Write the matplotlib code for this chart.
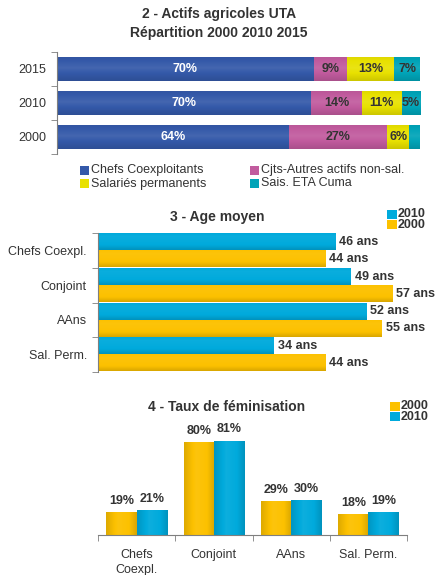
import matplotlib
matplotlib.use("Agg")
import matplotlib.pyplot as plt
import numpy as np
from matplotlib.patches import Rectangle
from matplotlib.colors import to_rgb

plt.rcParams['font.family'] = ['Liberation Sans', 'DejaVu Sans']

# ---- data -------------------------------------------------------------
years = ["2000", "2010", "2015"]
uta_series = ["Chefs Coexploitants", "Cjts-Autres actifs non-sal.",
              "Salariés permanents", "Sais. ETA Cuma"]
uta_2000 = [64, 27, 6, 3]
uta_2010 = [70, 14, 11, 5]
uta_2015 = [70, 9, 13, 7]

age_groups = ["Chefs Coexpl.", "Conjoint", "AAns", "Sal. Perm."]
age_2010 = [46, 49, 52, 34]
age_2000 = [44, 57, 55, 44]

fem_groups = ["Chefs\nCoexpl.", "Conjoint", "AAns", "Sal. Perm."]
fem_2000 = [19, 80, 29, 18]
fem_2010 = [21, 81, 30, 19]

# ---- styling ----------------------------------------------------------
uta_colors = ["#3459A9", "#C15B9E", "#E8E100", "#00A4B8"]
c_cyan = "#00AADC"
c_gold = "#FCC100"
txt = "#333333"
spine_c = "#7F7F7F"

W, H = 445, 575
fig = plt.figure(figsize=(W / 100, H / 100), dpi=100)


def px_axes(x0, y0, x1, y1):
    return fig.add_axes([x0 / W, 1 - y1 / H, (x1 - x0) / W, (y1 - y0) / H])


def fxy(x, y):
    return x / W, 1 - y / H


def shade(color, s):
    c = np.array(to_rgb(color))
    if s >= 0:
        return c + (1 - c) * s
    return c * (1 + s)


def gradient(ax, patch, color, stops, along_x):
    """Overlay a soft gradient on a bar patch."""
    t = np.linspace(0, 1, 64)
    xs, ss = zip(*stops)
    prof = np.interp(t, xs, ss)
    cols = np.array([shade(color, s) for s in prof])
    img = cols[None, :, :] if along_x else cols[:, None, :]
    x0, y0 = patch.get_x(), patch.get_y()
    w, h = patch.get_width(), patch.get_height()
    ax.imshow(img, extent=(x0, x0 + w, y0, y0 + h), origin="lower",
              aspect="auto", interpolation="bilinear",
              zorder=patch.get_zorder() + 0.1)


def swatch(x, y, w, h, color):
    fx, fy = fxy(x, y + h)
    fig.add_artist(Rectangle((fx, fy), w / W, h / H, transform=fig.transFigure,
                             facecolor=color, edgecolor="none"))


def legend_box(x, y, w, h, color, label):
    swatch(x, y, w, h, color)
    fig.text(*fxy(x + w + 2, y + h / 2), label, fontsize=9, color=txt,
             va="center", ha="left")


def year_legend(x, y, colors, labels):
    """Two stacked swatches with a two-line bold caption."""
    swatch(x, y, 10, 9, colors[0])
    swatch(x, y + 10, 10, 9, colors[1])
    fig.text(*fxy(x + 11, y + 9.5), "\n".join(labels), fontsize=9,
             fontweight="bold", color=txt, va="center", ha="left",
             linespacing=0.78)


def left_category_axis(ax, n):
    for s in ("top", "right", "bottom"):
        ax.spines[s].set_visible(False)
    ax.spines["left"].set_color(spine_c)
    ax.set_xticks([])
    ax.set_yticks(np.arange(-0.5, n, 1.0), minor=True)
    ax.tick_params(axis="y", which="minor", length=4, color=spine_c, direction="out")
    ax.tick_params(axis="y", which="major", length=0, pad=8, labelsize=9,
                   labelcolor=txt)


# ---- 2 - Actifs agricoles UTA ------------------------------------------
fig.text(*fxy(219, 14), "2 - Actifs agricoles UTA", ha="center", va="center",
         fontsize=10, fontweight="bold", color=txt)
fig.text(*fxy(219, 33), "Répartition 2000 2010 2015", ha="center", va="center",
         fontsize=10, fontweight="bold", color=txt)

ax1 = px_axes(57, 52, 420, 154)
rows = [uta_2000, uta_2010, uta_2015]
left = np.zeros(len(rows))
shares = np.array([np.array(r, float) / sum(r) for r in rows])
for j, name in enumerate(uta_series):
    vals = shares[:, j]
    bars = ax1.barh(np.arange(len(rows)), vals, left=left, height=0.68,
                    color=uta_colors[j], label=name, zorder=2)
    for i, b in enumerate(bars):
        gradient(ax1, b, uta_colors[j], [(0, -0.12), (0.55, 0.08), (1, -0.04)], False)
        raw = rows[i][j]
        if raw >= 5:
            ax1.text(left[i] + vals[i] / 2, i, f"{raw}%", ha="center", va="center",
                     fontsize=9, fontweight="bold",
                     color="white" if j == 0 else txt, zorder=5)
    left += vals
ax1.set_xlim(0, 1)
ax1.set_ylim(-0.5, 2.5)
ax1.set_yticks(np.arange(len(rows)))
ax1.set_yticklabels(years)
left_category_axis(ax1, len(rows))

legend_box(80, 166, 9, 9, uta_colors[0], uta_series[0])
legend_box(250, 166, 9, 9, uta_colors[1], uta_series[1])
legend_box(80, 179, 9, 9, uta_colors[2], uta_series[2])
legend_box(250, 179, 9, 9, uta_colors[3], uta_series[3])

# ---- 3 - Age moyen ----------------------------------------------------
fig.text(*fxy(217, 217), "3 - Age moyen", ha="center", va="center",
         fontsize=10, fontweight="bold", color=txt)
ax2 = px_axes(98, 233, 428, 372)
ypos = np.arange(len(age_groups))[::-1]
b10 = ax2.barh(ypos + 0.245, age_2010, height=0.48, color=c_cyan, zorder=2)
b00 = ax2.barh(ypos - 0.245, age_2000, height=0.48, color=c_gold, zorder=2)
for bars, col in ((b10, c_cyan), (b00, c_gold)):
    for b in bars:
        gradient(ax2, b, col, [(0, -0.14), (0.3, 0.0), (0.8, 0.04), (1, 0.0)], False)
        ax2.text(b.get_width() + 0.8, b.get_y() + b.get_height() / 2,
                 f"{int(b.get_width())} ans", ha="left", va="center",
                 fontsize=9, fontweight="bold", color=txt, zorder=5)
ax2.set_xlim(0, 330 / 5.16)
ax2.set_ylim(-0.5, len(age_groups) - 0.5)
ax2.set_yticks(ypos)
ax2.set_yticklabels(age_groups)
left_category_axis(ax2, len(age_groups))

year_legend(387, 210, [c_cyan, c_gold], ["2010", "2000"])

# ---- 4 - Taux de féminisation ------------------------------------------
fig.text(*fxy(227, 407), "4 - Taux de féminisation", ha="center", va="center",
         fontsize=10, fontweight="bold", color=txt)
ax3 = px_axes(98, 410, 407, 535)
xpos = np.arange(len(fem_groups))
f00 = ax3.bar(xpos - 0.195, fem_2000, width=0.39, color=c_gold, zorder=2)
f10 = ax3.bar(xpos + 0.195, fem_2010, width=0.39, color=c_cyan, zorder=2)
for bars, col in ((f00, c_gold), (f10, c_cyan)):
    for b in bars:
        gradient(ax3, b, col, [(0, -0.12), (0.4, 0.05), (0.75, 0.0), (1, -0.14)], True)
        ax3.text(b.get_x() + b.get_width() / 2, b.get_height() + 10,
                 f"{int(b.get_height())}%", ha="center", va="center",
                 fontsize=9, fontweight="bold", color=txt, zorder=5)
ax3.set_xlim(-0.5, len(fem_groups) - 0.5)
ax3.set_ylim(0, 125 / 1.16)
for s in ("top", "right", "left"):
    ax3.spines[s].set_visible(False)
ax3.spines["bottom"].set_color(spine_c)
ax3.set_yticks([])
ax3.set_xticks(xpos)
ax3.set_xticklabels(fem_groups, linespacing=1.3)
ax3.set_xticks(np.arange(-0.5, len(fem_groups), 1.0), minor=True)
ax3.tick_params(axis="x", which="minor", length=4, color=spine_c, direction="out")
ax3.tick_params(axis="x", which="major", length=0, pad=10, labelsize=9,
                labelcolor=txt)

year_legend(390, 402, [c_gold, c_cyan], ["2000", "2010"])

fig.savefig("out.png", dpi=100)
